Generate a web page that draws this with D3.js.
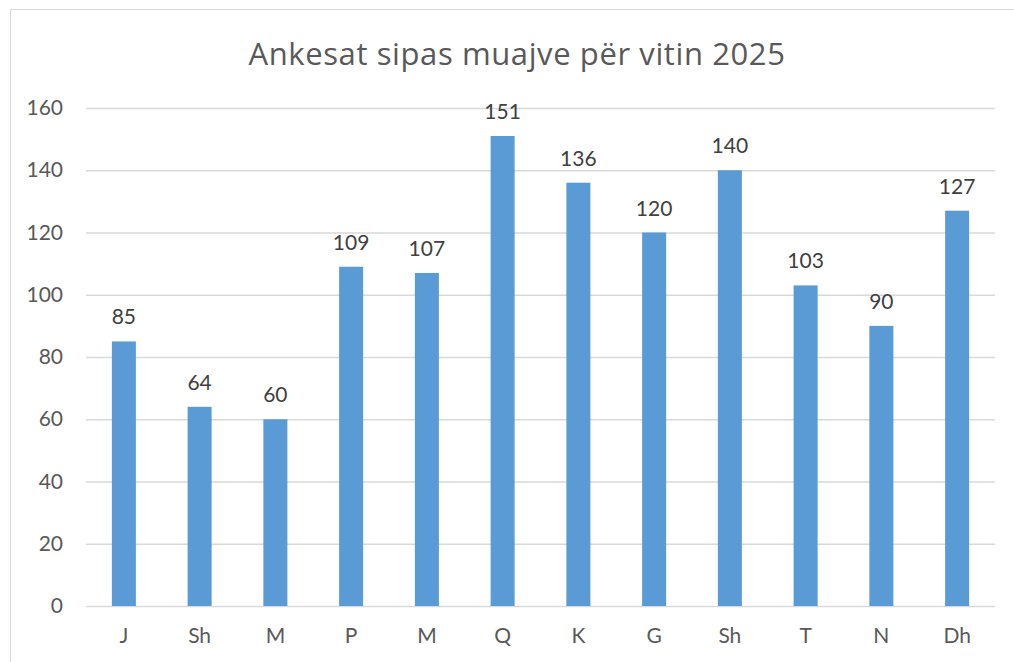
<!DOCTYPE html>
<html>
<head>
<meta charset="utf-8">
<script src="https://cdn.jsdelivr.net/npm/d3@7"></script>
<style>
  body { margin: 0; background: #fff; }
  text { font-family: Lato, "Open Sans", sans-serif; fill: #595959; }
</style>
</head>
<body>
<div id="chart"></div>
<script>
// Chart data
var months = ["J", "Sh", "M", "P", "M", "Q", "K", "G", "Sh", "T", "N", "Dh"];
var complaints = [85, 64, 60, 109, 107, 151, 136, 120, 140, 103, 90, 127];
var yTicks = [0, 20, 40, 60, 80, 100, 120, 140, 160];
var chartTitle = "Ankesat sipas muajve për vitin 2025";

var svgWidth = 1014;
var svgHeight = 662;

var margin = { top: 108, bottom: 56, left: 86, right: 19 };
var width = svgWidth - margin.left - margin.right;
var height = svgHeight - margin.top - margin.bottom;

var svg = d3.select("#chart")
    .append("svg")
    .attr("width", svgWidth)
    .attr("height", svgHeight);

// outer chart border
svg.append("rect")
    .attr("x", 10.5)
    .attr("y", 9.5)
    .attr("width", svgWidth + 20)
    .attr("height", svgHeight + 20)
    .attr("fill", "none")
    .attr("stroke", "#d9d9d9")
    .attr("stroke-width", 1);

svg.append("text")
    .attr("x", 517)
    .attr("y", 65)
    .attr("text-anchor", "middle")
    .style("font-family", "'Open Sans', sans-serif")
    .style("font-size", "31px")
    .style("letter-spacing", "0.6px")
    .text(chartTitle);

var chartGroup = svg.append("g")
    .attr("transform", `translate(${margin.left}, ${margin.top})`);

// band scale on indices because month letters repeat
var xBand = d3.scaleBand()
    .domain(d3.range(months.length))
    .range([0, width])
    .paddingInner(0.683)
    .paddingOuter(0.3415);

var yLinear = d3.scaleLinear()
    .domain([0, 160])
    .range([height, 0]);

// gridlines + y labels
var leftAxis = d3.axisLeft(yLinear)
    .tickValues(yTicks)
    .tickSize(-width)
    .tickPadding(23);

var yAxis = chartGroup.append("g").call(leftAxis);
yAxis.select(".domain").remove();
yAxis.selectAll(".tick line")
    .attr("stroke", "#d9d9d9")
    .attr("stroke-width", 1.3);
yAxis.selectAll(".tick text")
    .style("font-size", "21px")
    .attr("font-family", null)
    .attr("fill", "#595959");

// x labels
var bottomAxis = d3.axisBottom(xBand)
    .tickSize(0)
    .tickPadding(22)
    .tickFormat(i => months[i]);

var xAxis = chartGroup.append("g")
    .attr("transform", `translate(0, ${height})`)
    .call(bottomAxis);
xAxis.select(".domain").remove();
xAxis.selectAll(".tick text")
    .style("font-size", "21px")
    .attr("font-family", null)
    .attr("fill", "#595959");

// bars
chartGroup.selectAll("rect.bar")
    .data(complaints)
    .enter()
    .append("rect")
    .attr("class", "bar")
    .attr("x", (d, i) => xBand(i))
    .attr("y", d => yLinear(d))
    .attr("width", xBand.bandwidth())
    .attr("height", d => height - yLinear(d))
    .attr("fill", "#5b9bd5");

// value labels
chartGroup.selectAll("text.value")
    .data(complaints)
    .enter()
    .append("text")
    .attr("class", "value")
    .attr("x", (d, i) => xBand(i) + xBand.bandwidth() / 2)
    .attr("y", d => yLinear(d) - 17)
    .attr("text-anchor", "middle")
    .style("font-size", "21px")
    .style("fill", "#404040")
    .text(d => d);
</script>
</body>
</html>
